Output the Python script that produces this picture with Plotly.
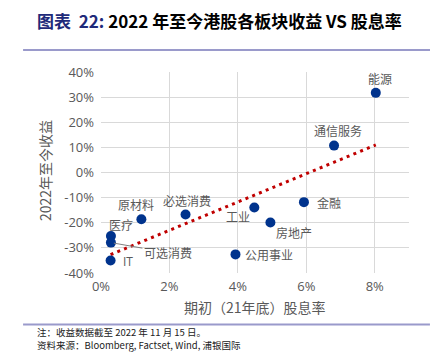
import numpy as np
import plotly.graph_objects as go

# ---- data ----
sectors = ["能源", "通信服务", "金融", "工业", "房地产", "公用事业",
           "必选消费", "原材料", "医疗", "可选消费", "IT"]
dividend_yield = [8.03, 6.81, 5.93, 4.48, 4.95, 3.93, 2.47, 1.18, 0.29, 0.29, 0.28]  # %
ytd_return = [31.7, 10.7, -11.8, -13.9, -19.9, -32.6, -16.7, -18.6, -25.3, -27.9, -35.0]  # %
x_ticks = [0, 2, 4, 6, 8]
x_tick_text = ["0%", "2%", "4%", "6%", "8%"]
y_ticks = [-40, -30, -20, -10, 0, 10, 20, 30, 40]
y_tick_text = ["-40%", "-30%", "-20%", "-10%", "0%", "10%", "20%", "30%", "40%"]

# label placement (style only): (xshift, yshift, xanchor)
label_pos = {
    "能源": (4, 14, "center"),
    "通信服务": (4, 15, "center"),
    "金融": (11, 0, "left"),
    "工业": (-16, -9, "center"),
    "房地产": (24, -10, "center"),
    "公用事业": (8, 0, "left"),
    "必选消费": (1, 14, "center"),
    "原材料": (-5, 15, "center"),
    "医疗": (10, 12, "center"),
    "IT": (17, -1, "center"),
}

CJK = "Noto Sans CJK SC"
GRAY = "#595959"
RULE = "#9a9acb"

# linear trendline from data
xs = np.array(dividend_yield)
ys = np.array(ytd_return)
k, b = np.polyfit(xs, ys, 1)
tx = np.array([xs.min(), xs.max()])
ty = k * tx + b

fig = go.Figure()
fig.add_trace(go.Scatter(
    x=tx, y=ty, mode="lines",
    line=dict(color="#c00000", width=3, dash="3px,4.3px"),
    hoverinfo="skip", showlegend=False,
))
fig.add_trace(go.Scatter(
    x=dividend_yield, y=ytd_return, mode="markers",
    marker=dict(color="#00338d", size=10),
    showlegend=False,
))

annotations = []
for name, xv, yv in zip(sectors, dividend_yield, ytd_return):
    if name == "可选消费":
        annotations.append(dict(
            x=xv, y=yv, xref="x", yref="y", text=name,
            showarrow=True, arrowhead=0, arrowwidth=1, arrowcolor="#7f7f7f",
            ax=57, ay=10, standoff=3,
            font=dict(family=CJK, size=12, color=GRAY),
        ))
        continue
    xs_, ys_, anc = label_pos[name]
    annotations.append(dict(
        x=xv, y=yv, xref="x", yref="y", text=name, showarrow=False,
        xshift=xs_, yshift=ys_, xanchor=anc, yanchor="middle",
        font=dict(family=CJK if name != "IT" else "Open Sans", size=12, color=GRAY),
    ))

# title
annotations.append(dict(
    xref="paper", yref="paper", x=-0.214, y=1.256, xanchor="left", yanchor="middle",
    showarrow=False,
    text="<b><span style='color:#1f2a7a'>图表  22:</span> 2022 年至今港股各板块收益 VS 股息率</b>",
    font=dict(family=CJK, size=17, color="#000000"),
))
# top rule drawn as a horizontal arrow-less annotation line
annotations.append(dict(
    xref="paper", yref="paper", x=1.068, y=1.11, ax=-407, ay=0,
    axref="pixel", ayref="pixel",
    text=" ", showarrow=True, arrowhead=0, arrowwidth=2, arrowcolor=RULE,
    standoff=0, startstandoff=0, font=dict(size=1),
))
# axis titles
annotations.append(dict(
    xref="paper", yref="paper", x=-0.182, y=0.512, textangle=-90,
    xanchor="center", yanchor="middle",
    showarrow=False, text="2022年至今收益",
    font=dict(family=CJK, size=14, color=GRAY),
))
annotations.append(dict(
    xref="paper", yref="paper", x=0.5, y=-0.171, xanchor="center", yanchor="middle",
    showarrow=False, text="期初（21年底）股息率",
    font=dict(family=CJK, size=14, color=GRAY),
))
# footer
annotations.append(dict(
    xref="paper", yref="paper", x=-0.214, y=-0.296, xanchor="left", yanchor="middle",
    showarrow=False, text="注：收益数据截至 2022 年 11 月 15 日。",
    font=dict(family=CJK, size=9.5, color="#222222"),
))
annotations.append(dict(
    xref="paper", yref="paper", x=-0.214, y=-0.357, xanchor="left", yanchor="middle",
    showarrow=False, text="资料来源：Bloomberg, Factset, Wind, 浦银国际",
    font=dict(family=CJK, size=9.5, color="#222222"),
))

shapes = [
    dict(type="line", xref="paper", yref="paper", x0=-0.253, x1=1.068, y0=1.11, y1=1.11,
         layer="above", line=dict(color=RULE, width=2)),
    dict(type="line", xref="paper", yref="paper", x0=-0.253, x1=1.068, y0=-0.256, y1=-0.256,
         layer="above", line=dict(color=RULE, width=2)),
]

fig.update_layout(
    width=435, height=356,
    margin=dict(l=101, r=26, t=72, b=83),
    paper_bgcolor="white", plot_bgcolor="white",
    showlegend=False,
    annotations=annotations, shapes=shapes,
    xaxis=dict(range=[0, 9], tickvals=x_ticks, ticktext=x_tick_text,
               showgrid=True, gridcolor="#d9d9d9", gridwidth=1.3,
               zeroline=False, showline=False, ticks="",
               tickfont=dict(family="Open Sans", size=13, color=GRAY),
               ticklabelstandoff=4),
    yaxis=dict(range=[-40, 40], tickvals=y_ticks, ticktext=y_tick_text,
               showgrid=True, gridcolor="#d9d9d9", gridwidth=1.3,
               zeroline=False, showline=False, ticks="",
               tickfont=dict(family="Open Sans", size=13, color=GRAY),
               ticklabelstandoff=6),
)

fig.write_html("out.html",
               config={"displayModeBar": False},
               post_script="document.body.style.margin='0';document.body.style.padding='0';")
